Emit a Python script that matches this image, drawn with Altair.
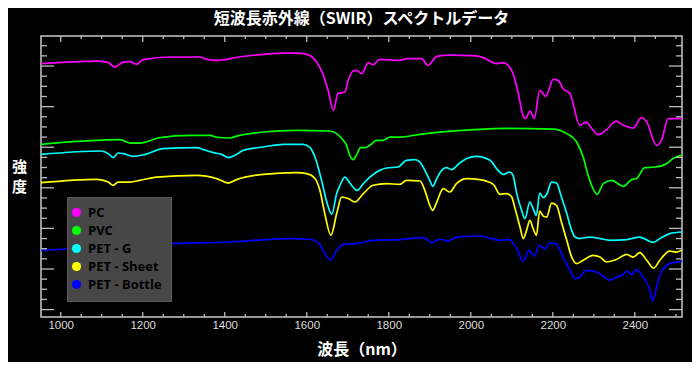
import altair as alt
import pandas as pd

# ---- series definitions ----
series_names = ["PC", "PVC", "PET - G", "PET - Sheet", "PET - Bottle"]
series_colors = ["#ff00ff", "#00ff00", "#00ffff", "#ffff00", "#0000ff"]

# ---- spectra (wavelength nm, intensity a.u.) ----
pc_nm = [952, 1088, 1115, 1132, 1152, 1169, 1185, 1201, 1266, 1340, 1356, 1380, 1405, 1420,
         1493, 1542, 1575, 1600, 1624, 1639, 1652, 1665, 1676, 1693, 1701, 1713, 1722, 1734,
         1750, 1762, 1778, 1827, 1843, 1880, 1896, 1917, 1949, 2006, 2030, 2063, 2079, 2091,
         2103, 2116, 2126, 2134, 2144, 2155, 2168, 2183, 2201, 2213, 2225, 2242, 2266, 2281,
         2295, 2311, 2331, 2355, 2372, 2396, 2416, 2429, 2453, 2465, 2481, 2516]
pc_val = [24.24, 24.49, 24.36, 23.90, 24.39, 24.43, 24.17, 24.63, 24.89, 24.89, 24.66, 24.56, 24.66, 24.79,
          25.15, 25.28, 25.28, 25.15, 24.39, 23.25, 21.61, 19.64, 21.28, 21.44, 22.59, 23.51, 23.58, 23.25,
          24.33, 24.14, 24.66, 24.56, 24.73, 24.73, 24.07, 24.96, 25.08, 25.02, 24.83, 24.24, 24.33, 24.07,
          23.25, 21.28, 19.31, 18.82, 19.57, 18.82, 21.61, 21.01, 22.69, 22.59, 21.77, 21.28, 18.16, 18.48,
          17.83, 17.24, 17.73, 18.58, 18.16, 17.89, 18.92, 18.48, 16.19, 16.68, 18.82, 18.82]

pvc_nm = [952, 1145, 1169, 1193, 1242, 1315, 1364, 1380, 1413, 1429, 1494, 1575, 1656, 1673,
          1689, 1697, 1705, 1713, 1723, 1731, 1742, 1754, 1770, 1786, 1803, 1827, 1876, 2006,
          2087, 2201, 2234, 2258, 2274, 2286, 2298, 2308, 2323, 2343, 2372, 2392, 2404, 2424,
          2449, 2477, 2493, 2516]
pvc_val = [16.29, 16.75, 16.41, 16.41, 16.95, 17.17, 17.17, 16.98, 16.91, 17.10, 17.50, 17.67, 17.60, 17.34,
           16.68, 16.19, 15.20, 14.78, 15.37, 15.96, 15.96, 16.19, 16.68, 16.68, 17.00, 17.00, 17.27, 17.73,
           17.86, 17.79, 17.34, 16.51, 15.03, 13.23, 11.92, 11.36, 12.41, 12.74, 12.15, 12.81, 12.91, 13.99,
           14.05, 14.38, 14.88, 15.23]

petg_nm = [952, 1100, 1116, 1128, 1140, 1153, 1177, 1206, 1250, 1332, 1348, 1372, 1392, 1409,
           1425, 1445, 1494, 1543, 1591, 1608, 1620, 1636, 1650, 1661, 1673, 1681, 1693, 1705,
           1723, 1738, 1754, 1778, 1795, 1823, 1843, 1864, 1876, 1888, 1900, 1907, 1917, 1929,
           1941, 1953, 1973, 1990, 2014, 2047, 2063, 2079, 2095, 2103, 2112, 2124, 2132, 2144,
           2152, 2160, 2168, 2177, 2185, 2197, 2209, 2221, 2234, 2246, 2254, 2266, 2290, 2315,
           2339, 2380, 2412, 2445, 2461, 2485, 2516]
petg_val = [15.30, 15.63, 15.37, 14.98, 15.43, 15.37, 15.10, 15.30, 15.86, 15.96, 15.76, 15.47, 15.30, 14.98,
            15.20, 15.69, 16.02, 16.29, 16.29, 15.96, 15.03, 12.74, 10.44, 9.39, 11.43, 12.25, 13.06, 12.47,
            11.75, 12.41, 13.06, 13.72, 13.95, 14.05, 14.71, 14.78, 14.54, 13.72, 12.74, 12.15, 12.91, 13.72,
            13.99, 13.79, 14.44, 14.88, 15.10, 14.71, 13.89, 13.33, 13.56, 13.23, 11.43, 9.78, 8.97, 10.60,
            9.95, 9.29, 11.49, 11.03, 11.36, 12.57, 12.47, 11.09, 9.46, 7.81, 7.15, 7.00, 7.15, 7.00,
            6.83, 6.90, 7.15, 6.63, 7.00, 7.49, 7.65]

sheet_nm = [952, 1088, 1116, 1128, 1140, 1169, 1193, 1234, 1332, 1380, 1409, 1429, 1494, 1575,
            1600, 1620, 1632, 1644, 1659, 1673, 1685, 1701, 1717, 1738, 1762, 1795, 1827, 1843,
            1876, 1888, 1900, 1907, 1917, 1933, 1949, 1965, 1990, 2022, 2055, 2071, 2087, 2099,
            2108, 2120, 2128, 2136, 2144, 2152, 2160, 2168, 2177, 2185, 2197, 2209, 2221, 2234,
            2246, 2258, 2274, 2298, 2315, 2331, 2355, 2380, 2396, 2412, 2429, 2446, 2461, 2485,
            2502, 2516]
sheet_val = [12.51, 12.84, 12.57, 12.25, 12.57, 12.57, 12.74, 13.06, 13.23, 12.91, 12.47, 12.81, 13.33, 13.50,
             13.40, 12.91, 11.75, 9.46, 7.32, 9.46, 11.09, 10.94, 10.60, 11.43, 12.25, 12.41, 12.34, 12.74,
             12.67, 11.75, 10.28, 9.78, 10.60, 11.92, 11.59, 12.41, 12.91, 12.81, 12.34, 11.36, 11.43, 11.16,
             9.95, 8.14, 7.00, 7.81, 8.80, 7.98, 7.32, 9.71, 9.19, 9.12, 10.50, 10.28, 8.63, 6.83,
             5.18, 4.53, 4.86, 5.35, 5.18, 4.69, 4.93, 5.45, 5.18, 5.62, 4.86, 4.10, 4.86, 5.77,
             5.67, 5.91]

bottle_nm = [952, 1088, 1250, 1413, 1559, 1608, 1632, 1644, 1659, 1673, 1689, 1722, 1762, 1827,
             1884, 1896, 1904, 1925, 1945, 1965, 2022, 2071, 2095, 2112, 2128, 2142, 2155, 2167,
             2181, 2193, 2209, 2225, 2242, 2254, 2266, 2282, 2307, 2331, 2339, 2355, 2372, 2380,
             2392, 2404, 2420, 2437, 2443, 2451, 2461, 2485, 2516]
bottle_val = [5.84, 6.11, 6.50, 6.66, 7.00, 6.93, 6.43, 5.52, 4.86, 5.84, 6.43, 6.50, 6.83, 6.90,
              7.09, 6.83, 6.60, 6.93, 6.76, 7.15, 7.25, 6.83, 6.90, 6.01, 4.79, 5.84, 5.25, 6.33,
              6.01, 6.56, 6.43, 5.18, 3.87, 3.05, 3.21, 3.87, 3.70, 3.05, 2.89, 3.21, 3.48, 3.80,
              3.48, 3.94, 3.21, 1.90, 0.85, 1.90, 3.38, 4.53, 4.76]

# ---- axis tick values ----
x_major_ticks = [1000, 1200, 1400, 1600, 1800, 2000, 2200, 2400]
x_minor_ticks = [v for v in range(1000, 2501, 50) if v not in x_major_ticks]
y_major_ticks = [0, 4, 8, 12, 16, 20, 24]
y_minor_ticks = [v for v in range(0, 27) if v not in y_major_ticks]

# ---- build long table ----
frames = []
for name, xs, ys in [("PC", pc_nm, pc_val), ("PVC", pvc_nm, pvc_val),
                     ("PET - G", petg_nm, petg_val), ("PET - Sheet", sheet_nm, sheet_val),
                     ("PET - Bottle", bottle_nm, bottle_val)]:
    frames.append(pd.DataFrame({"series": name, "nm": xs, "val": ys}))
df = pd.concat(frames, ignore_index=True)

W, H = 641, 281
TICK = "#bdbdbd"
JP = "Noto Sans CJK JP"

xscale = alt.Scale(domain=[952, 2515], nice=False, zero=False)
yscale = alt.Scale(domain=[-0.73, 26.96], nice=False, zero=False)

lines = alt.Chart(df).mark_line(strokeWidth=1.7, interpolate="monotone", clip=True).encode(
    x=alt.X("nm:Q", scale=xscale,
            axis=alt.Axis(values=x_major_ticks, format="d", ticks=False, domain=False, grid=False,
                          labelColor="#dddddd", labelFont="Liberation Sans", labelFontSize=11.5,
                          labelPadding=2, labelFlush=False, labelOverlap=False,
                          title="波長（nm）", titleFont=JP, titleFontSize=16, titleFontWeight="bold",
                          titleColor="#ffffff", titleY=32, titleBaseline="middle")),
    y=alt.Y("val:Q", scale=yscale,
            axis=alt.Axis(labels=False, ticks=False, domain=False, grid=False,
                          title=["強", "度"], titleAngle=0, titleX=-22, titleY=130,
                          titleAlign="center", titleBaseline="middle", titleLineHeight=20,
                          titleFont=JP, titleFontSize=15, titleFontWeight="bold",
                          titleColor="#ffffff")),
    # same colour mapping, listed in reverse so this (hidden) legend is not merged with the visible one
    color=alt.Color("series:N",
                    scale=alt.Scale(domain=series_names[::-1], range=series_colors[::-1]),
                    legend=None),
)


def xtick_layer(vals, y0, y1):
    return alt.Chart(pd.DataFrame({"v": vals})).mark_rule(color=TICK, strokeWidth=1.3).encode(
        x=alt.X("v:Q", scale=xscale), y=alt.value(y0), y2=alt.value(y1))


def ytick_layer(vals, x0, x1):
    return alt.Chart(pd.DataFrame({"v": vals})).mark_rule(color=TICK, strokeWidth=1.3).encode(
        y=alt.Y("v:Q", scale=yscale), x=alt.value(x0), x2=alt.value(x1))


ticks = [
    xtick_layer(x_major_ticks, H - 5, H), xtick_layer(x_minor_ticks, H - 3, H),
    xtick_layer(x_major_ticks, 0, 6), xtick_layer(x_minor_ticks, 0, 3),
    ytick_layer(y_major_ticks, 0, 13), ytick_layer(y_minor_ticks, 0, 6),
    ytick_layer(y_major_ticks, W - 13, W), ytick_layer(y_minor_ticks, W - 6, W),
]

# legend source: filled circles (no data rows drawn, legend lists the full domain)
legend_layer = alt.Chart(df).transform_filter("datum.nm < 0").mark_circle(opacity=1, size=85).encode(
    fill=alt.Fill("series:N", scale=alt.Scale(domain=series_names, range=series_colors),
                  legend=alt.Legend(title=None, orient="none", legendX=26, legendY=161,
                                    fillColor="#474747", strokeColor="#5a5a5a",
                                    padding=9, symbolType="circle", symbolSize=85,
                                    symbolStrokeWidth=0, symbolOpacity=1, symbolOffset=-6,
                                    labelFont="Open Sans", labelFontWeight="bold",
                                    labelFontSize=13, labelColor="#000000",
                                    labelExpr="datum.label + '\u2002\u2009'",
                                    rowPadding=4, labelOffset=5, cornerRadius=0)),
)

chart = alt.layer(lines, *ticks, legend_layer).properties(
    width=W, height=H,
    background="#000000",
    padding={"left": 33, "top": 28, "right": 10, "bottom": 45},
    autosize=alt.AutoSizeParams(type="none"),
    title=alt.TitleParams(text="短波長赤外線（SWIR）スペクトルデータ", font=JP, fontSize=16,
                          fontWeight="bold", color="#ffffff", anchor="middle", offset=8),
).configure_view(stroke="#c8c8c8", strokeWidth=1.5)

chart.save("out.html", embed_options={"renderer": "svg", "actions": False})
